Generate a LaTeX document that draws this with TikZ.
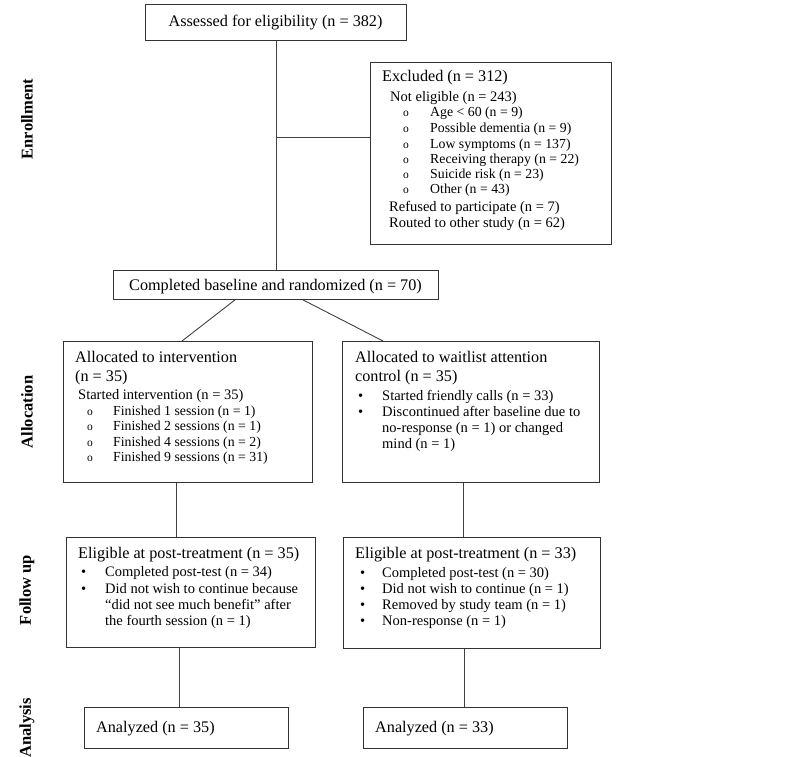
\documentclass[tikz,border=0pt]{standalone}
\usepackage{fontspec}
\setmainfont{Liberation Serif}
\begin{document}
\begin{tikzpicture}[x=1pt,y=-1pt,
  box/.style={draw=black!80, line width=0.9pt, inner sep=0pt, anchor=north west},
  conn/.style={draw=black!75, line width=0.9pt},
  hd/.style={anchor=base west, inner sep=0pt, font=\fontsize{16.2}{19}\selectfont},
  it/.style={anchor=base west, inner sep=0pt, font=\fontsize{14.5}{16}\selectfont},
  si/.style={anchor=base west, inner sep=0pt, font=\fontsize{13.8}{16}\selectfont},
  ob/.style={anchor=base west, inner sep=0pt, font=\fontsize{11.5}{13}\selectfont},
  sec/.style={rotate=90, inner sep=0pt, font=\bfseries\fontsize{16.5}{18}\selectfont}]
\newcommand\bx[5]{\node[box, minimum width={(#4-#2)*1pt}, minimum height={(#5-#3)*1pt}] (#1) at (#2,#3) {};}
\useasboundingbox (0,0) rectangle (800,757);
% boxes
\bx{top}{145}{4}{406}{40}
\bx{excl}{370}{62}{611}{244}
\bx{base}{113}{270}{438}{299}
\bx{alL}{63}{341}{312}{482}
\bx{alR}{342}{341}{599}{482}
\bx{fuL}{66}{537}{315}{647}
\bx{fuR}{343}{537}{600}{648}
\bx{anL}{84}{707}{288}{748}
\bx{anR}{363}{707}{567}{748}
% section labels
\node[sec] (s1) at (27,119) {Enrollment};
\node[sec] (s2) at (27,412) {Allocation};
\node[sec] (s3) at (27,590) {Follow up};
\node[sec] (s4) at (27,728) {Analysis};
% top
\node[hd, anchor=base] (t0) at (275.5,27) {Assessed for eligibility (n = 382)};
% excluded
\node[hd] (e0) at (382,82) {Excluded (n = 312)};
\node[it] (e1) at (390,102) {Not eligible (n = 243)};
\node[ob] (eo1) at (403,117) {o}; \node[si] (e2) at (430,117) {Age < 60 (n = 9)};
\node[ob] (eo2) at (403,132) {o}; \node[si] (e3) at (430,132) {Possible dementia (n = 9)};
\node[ob] (eo3) at (403,148) {o}; \node[si] (e4) at (430,148) {Low symptoms (n = 137)};
\node[ob] (eo4) at (403,163) {o}; \node[si] (e5) at (430,163) {Receiving therapy (n = 22)};
\node[ob] (eo5) at (403,178) {o}; \node[si] (e6) at (430,178) {Suicide risk (n = 23)};
\node[ob] (eo6) at (403,193) {o}; \node[si] (e7) at (430,193) {Other (n = 43)};
\node[it] (e8) at (389,211) {Refused to participate (n = 7)};
\node[it] (e9) at (389,227) {Routed to other study (n = 62)};
% baseline
\node[hd, anchor=base] (b0) at (275.5,290) {Completed baseline and randomized (n = 70)};
% allocation left
\node[hd] (l0) at (75,362) {Allocated to intervention};
\node[hd] (l1) at (75,381) {(n = 35)};
\node[it] (l2) at (78,399) {Started intervention (n = 35)};
\node[ob] (lo1) at (87,415) {o}; \node[si] (l3) at (113,415) {Finished 1 session (n = 1)};
\node[ob] (lo2) at (87,430) {o}; \node[si] (l4) at (113,430) {Finished 2 sessions (n = 1)};
\node[ob] (lo3) at (87,446) {o}; \node[si] (l5) at (113,446) {Finished 4 sessions (n = 2)};
\node[ob] (lo4) at (87,461) {o}; \node[si] (l6) at (113,461) {Finished 9 sessions (n = 31)};
% allocation right
\node[hd] (r0) at (355,362) {Allocated to waitlist attention};
\node[hd] (r1) at (355,381) {control (n = 35)};
\node[it] (rb1) at (358,400) {•}; \node[it] (r2) at (382,400) {Started friendly calls (n = 33)};
\node[it] (rb2) at (358,416) {•}; \node[it] (r3) at (382,416) {Discontinued after baseline due to};
\node[it] (r4) at (382,432) {no-response (n = 1) or changed};
\node[it] (r5) at (382,448) {mind (n = 1)};
% follow-up left
\node[hd] (f0) at (78,558) {Eligible at post-treatment (n = 35)};
\node[it] (fb1) at (81,576) {•}; \node[it] (f1) at (105,576) {Completed post-test (n = 34)};
\node[it] (fb2) at (81,593) {•}; \node[it] (f2) at (105,593) {Did not wish to continue because};
\node[it] (f3) at (105,609) {“did not see much benefit” after};
\node[it] (f4) at (105,625) {the fourth session (n = 1)};
% follow-up right
\node[hd] (g0) at (355,558) {Eligible at post-treatment (n = 33)};
\node[it] (gb1) at (360,577) {•}; \node[it] (g1) at (382,577) {Completed post-test (n = 30)};
\node[it] (gb2) at (360,593) {•}; \node[it] (g2) at (382,593) {Did not wish to continue (n = 1)};
\node[it] (gb3) at (360,609) {•}; \node[it] (g3) at (382,609) {Removed by study team (n = 1)};
\node[it] (gb4) at (360,625) {•}; \node[it] (g4) at (382,625) {Non-response (n = 1)};
% analysis
\node[hd] (a0) at (96,732) {Analyzed (n = 35)};
\node[hd] (a1) at (375,732) {Analyzed (n = 33)};
% connectors
\coordinate (br) at (275.5,137);
\draw[conn] (top.south) -- (base.north);
\draw[conn] (br) -- (br -| excl.west);
\draw[conn] (235,0 |- base.south) -- (182,0 |- alL.north);
\draw[conn] (303,0 |- base.south) -- (383,0 |- alR.north);
\draw[conn] (176,0 |- alL.south) -- (176,0 |- fuL.north);
\draw[conn] (463,0 |- alR.south) -- (463,0 |- fuR.north);
\draw[conn] (179,0 |- fuL.south) -- (179,0 |- anL.north);
\draw[conn] (464,0 |- fuR.south) -- (464,0 |- anR.north);
\end{tikzpicture}
\end{document}
